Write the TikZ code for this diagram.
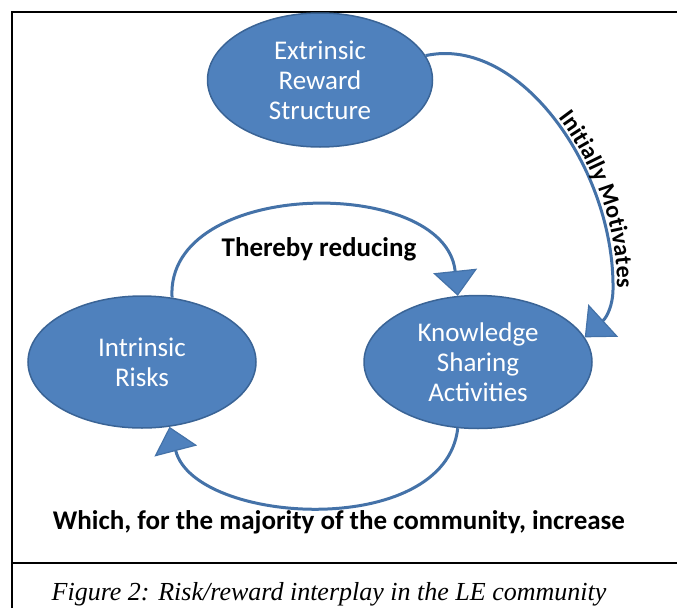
\documentclass[tikz,border=0pt]{standalone}
\usepackage{fontspec}
\setmainfont{Carlito}
\newfontfamily\timesfont{Liberation Serif}
\usetikzlibrary{shapes.geometric,arrows.meta,decorations.text}
\definecolor{efill}{HTML}{4F81BD}
\definecolor{eedge}{HTML}{3A6496}
\definecolor{conncol}{HTML}{4472A8}
\begin{document}
\begin{tikzpicture}[x=1pt,y=-1pt,
  oval/.style={ellipse, draw=eedge, line width=1.5pt, fill=efill, inner sep=0pt,
    text=white, align=center, font=\fontsize{27}{30}\selectfont},
  conn/.style={draw=conncol, line width=3pt,
    -{Triangle[width=44pt,length=25pt,fill=efill,line width=1.2pt]}},
  lbl/.style={font=\bfseries\fontsize{27}{29}\selectfont, text=black, inner sep=0pt},
  frameline/.style={line width=2pt, draw=black}]
\useasboundingbox (0,0) rectangle (677,608);
\draw[frameline] (12,608) -- (12,12) -- (677,12);
\draw[frameline] (12,563) -- (677,563);
\node[oval, minimum width=225pt, minimum height=134pt] (ext) at (320,80) {Extrinsic\\Reward\\Structure};
\node[oval, minimum width=228pt, minimum height=132pt] (intr) at (142,362) {Intrinsic\\Risks};
\node[oval, minimum width=228pt, minimum height=133pt] (know) at (478,362) {Knowledge\\Sharing\\Activities};
\draw[conn] (intr.65) .. controls (165,178) and (445,175) .. (know.107);
\draw[conn] (ext.13) .. controls (520,35) and (615,170) .. (613,290)
  .. controls (612.8,305) and (607,317) .. (know.13);
\path[decorate, decoration={text along path,
  text={|\bfseries\fontsize{24}{26}\selectfont|Initially Motivates},
  text align={right, right indent=2pt}, raise=4pt}]
  (ext.13) .. controls (520,35) and (615,170) .. (613,290);
\draw[conn] (know.-107) .. controls (445,540) and (195,525) .. (intr.-67);
\node[lbl] (tr) at (319,249) {Thereby reducing};
\node[lbl] (wh) at (339,522) {Which, for the majority of the community, increase};
\node[font=\timesfont\itshape\fontsize{26}{28}\selectfont, inner sep=0pt] (cap) at (329,594) {Figure 2: Risk/reward interplay in the LE community};
\end{tikzpicture}
\end{document}
